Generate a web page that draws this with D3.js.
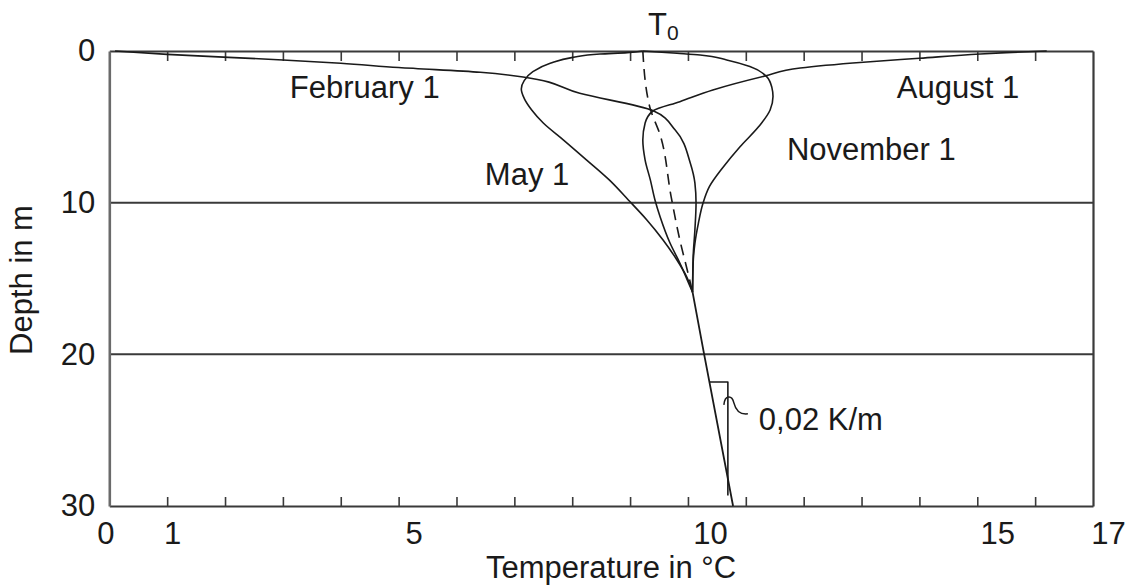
<!DOCTYPE html>
<html>
<head>
<meta charset="utf-8">
<script src="https://cdn.jsdelivr.net/npm/d3@7"></script>
<style>
  html, body { margin: 0; padding: 0; background: #fff; }
  svg text { font-family: "Liberation Sans", Arial, sans-serif; fill: #1a1a1a; }
</style>
</head>
<body>
<svg id="chart" width="1132" height="588"></svg>
<script>
// Ground temperature profiles: [temperature °C, depth m]
const february = [
  [0.1, 0], [1.0, 0.22], [3.0, 0.59], [4.0, 0.81], [5.0, 1.09], [6.41, 1.40],
  [7.15, 1.71], [8.13, 2.79], [9.40, 3.94], [9.78, 5.21], [10.04, 7.38],
  [10.12, 8.70], [10.14, 10.02], [10.12, 11.8], [10.09, 13.58], [10.08, 15.9]
];
const may = [
  [9.22, 0], [8.95, 0.11], [8.48, 0.2], [8.01, 0.42], [7.62, 0.81], [7.32, 1.36],
  [7.17, 1.95], [7.12, 2.5], [7.17, 3.12], [7.30, 3.89], [7.50, 4.75], [7.85, 5.87],
  [8.25, 7.19], [8.64, 8.5], [8.97, 9.82], [9.29, 11.14], [9.57, 12.46], [9.81, 13.78],
  [9.98, 14.9], [10.08, 15.9]
];
const august = [
  [16.2, 0], [15.5, 0.11], [15.05, 0.2], [14.0, 0.48], [13.03, 0.74], [11.94, 1.12],
  [11.33, 1.65], [10.43, 2.57], [9.86, 3.34], [9.40, 3.94], [9.26, 4.75], [9.22, 5.87],
  [9.26, 7.19], [9.35, 8.5], [9.43, 9.82], [9.52, 10.94], [9.69, 12.66], [9.86, 13.98],
  [10.04, 15.56], [10.08, 15.9]
];
const november = [
  [9.22, 0], [9.81, 0.15], [10.21, 0.26], [10.67, 0.59], [11.07, 1.03], [11.36, 1.69],
  [11.45, 2.4], [11.47, 3.0], [11.42, 3.89], [11.22, 5.0], [10.90, 6.31], [10.60, 7.7],
  [10.37, 8.95], [10.26, 10.04], [10.18, 11.36], [10.12, 12.68], [10.09, 13.98], [10.08, 15.9]
];
// Mean annual temperature T0 with depth (dashed)
const meanTemp = [
  [9.22, 0], [9.34, 3.69], [9.52, 5.54], [9.71, 9.62], [9.86, 12.46], [10.0, 14.63], [10.08, 15.9]
];
// Geothermal gradient below the seasonal zone
const geothermal = [[10.08, 15.9], [10.28, 20], [10.78, 30]];

const xTickLabels = [0, 1, 5, 10, 15, 17];
const xMinorTicks = d3.range(1, 17);
const depthTicks = [0, 10, 20, 30];
const depthGrid = [10, 20];

const seriesLabels = [
  { text: "February 1", t: 3.12, d: 3.08 },
  { text: "May 1", t: 6.49, d: 8.83 },
  { text: "November 1", t: 11.71, d: 7.18 },
  { text: "August 1", t: 13.61, d: 3.08 }
];

const svg = d3.select("#chart");
const plotLeft = 109.3, plotRight = 1093, plotTop = 51, plotBottom = 506;

const x = d3.scaleLinear().domain([0, 17]).range([plotLeft, plotRight]);
const y = d3.scaleLinear().domain([0, 30]).range([plotTop, plotBottom]);

const ink = "#1a1a1a";
const frame = "#3a3a3a";
const fontFamily = '"Liberation Sans", Arial, sans-serif';

// horizontal grid lines
svg.append("g").selectAll("line").data(depthGrid).join("line")
  .attr("x1", x(0)).attr("x2", x(17))
  .attr("y1", d => y(d)).attr("y2", d => y(d))
  .attr("stroke", frame).attr("stroke-width", 2);

// frame: top and bottom with inward ticks
const topAxis = svg.append("g").attr("transform", `translate(0,${y(0)})`)
  .call(d3.axisTop(x).tickValues(xMinorTicks).tickSize(-10).tickSizeOuter(0).tickFormat(""));
const bottomAxis = svg.append("g").attr("transform", `translate(0,${y(30)})`)
  .call(d3.axisBottom(x).tickValues(xMinorTicks).tickSize(-9).tickSizeOuter(0).tickFormat(""));
const rightAxis = svg.append("g").attr("transform", `translate(${x(17)},0)`)
  .call(d3.axisRight(y).tickValues([]).tickSizeOuter(0));
const leftAxis = svg.append("g").attr("transform", `translate(${x(0)},0)`)
  .call(d3.axisLeft(y).tickValues(depthTicks).tickSize(0).tickPadding(14).tickSizeOuter(0));

[topAxis, bottomAxis, rightAxis].forEach(g => {
  g.select(".domain").attr("stroke", frame).attr("stroke-width", 2.2);
  g.selectAll(".tick line").attr("stroke", frame).attr("stroke-width", 1.6);
});
leftAxis.select(".domain").attr("stroke", "#6a6a6a").attr("stroke-width", 2.6);
leftAxis.selectAll(".tick text").attr("font-size", 31).attr("fill", ink)
  .attr("font-family", fontFamily);

// x tick labels, slightly set off to the right of their ticks
const labelNudge = { 0: -4, 1: 5, 5: 15, 10: 22, 15: 20, 17: 15 };
const xLabels = svg.append("g").attr("transform", `translate(0,${y(30)})`)
  .call(d3.axisBottom(x).tickValues(xTickLabels).tickSize(0).tickPadding(16));
xLabels.select(".domain").remove();
xLabels.selectAll(".tick text")
  .attr("font-size", 31).attr("fill", ink)
  .attr("font-family", fontFamily)
  .attr("dx", d => labelNudge[d]);

// axis titles
svg.append("text")
  .attr("x", 611).attr("y", 578)
  .attr("text-anchor", "middle").attr("font-size", 31)
  .text("Temperature in °C");
svg.append("text")
  .attr("transform", "translate(32,280) rotate(-90)")
  .attr("text-anchor", "middle").attr("font-size", 31)
  .text("Depth in m");

// profiles: depth increases monotonically along each profile
const line = d3.line()
  .x(d => x(d[0])).y(d => y(d[1]))
  .curve(d3.curveMonotoneY);

const curves = svg.append("g").attr("fill", "none").attr("stroke", ink)
  .attr("stroke-width", 1.6).attr("stroke-linejoin", "round");
[february, may, august, november].forEach(s => curves.append("path").attr("d", line(s)));
curves.append("path").attr("d", d3.line().x(d => x(d[0])).y(d => y(d[1]))(geothermal))
  .attr("stroke-width", 1.8);
curves.append("path").attr("d", line(meanTemp)).attr("stroke-dasharray", "11,7");

// gradient marker: step from the geothermal line
const stepTop = 21.82, stepBottom = 29.3, stepT = 10.69;
const tAtDepth = d3.scaleLinear().domain([20, 30]).range([10.28, 10.78]);
curves.append("path")
  .attr("d", d3.line()([
    [x(tAtDepth(stepTop)), y(stepTop)],
    [x(stepT), y(stepTop)],
    [x(stepT), y(stepBottom)]
  ]))
  .attr("stroke-width", 1.6);

// small brace leading to the gradient label
const bx = x(stepT), by = y(23.0);
curves.append("path")
  .attr("d", `M${bx - 4},${by + 5} C${bx - 3},${by - 5} ${bx + 4},${by - 5} ${bx + 6},${by + 3}` +
             ` S${bx + 12},${by + 15} ${bx + 20},${by + 14}`)
  .attr("stroke-width", 1.5);

svg.append("text")
  .attr("x", bx + 31).attr("y", by + 30)
  .attr("font-size", 31)
  .text("0,02 K/m");

// series labels
svg.append("g").selectAll("text").data(seriesLabels).join("text")
  .attr("x", d => x(d.t)).attr("y", d => y(d.d))
  .attr("font-size", 31)
  .text(d => d.text);

// T0 label above the dashed line
const t0 = svg.append("text").attr("x", x(9.31)).attr("y", 35).attr("font-size", 31);
t0.append("tspan").text("T");
t0.append("tspan").attr("font-size", 21).attr("dy", 5).text("0");
</script>
</body>
</html>
